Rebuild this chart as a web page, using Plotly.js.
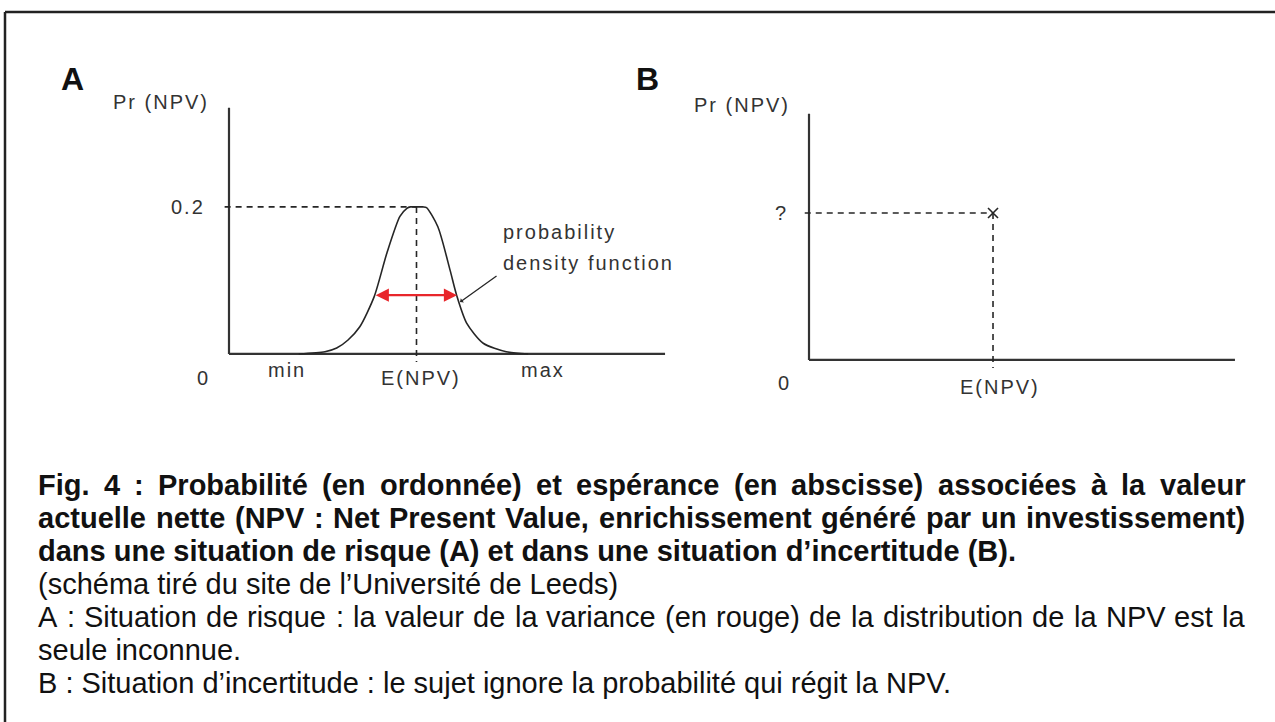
<!DOCTYPE html>
<html>
<head>
<meta charset="utf-8">
<script src="https://cdn.plot.ly/plotly-3.0.1.min.js"></script>
<style>
  html, body { margin: 0; padding: 0; background: #fff; }
  #chart { width: 1275px; height: 722px; }
</style>
</head>
<body>
<div id="chart"></div>
<script>
// ---------- DATA ----------
// Panel A : probability density function of the NPV (schematic)
const curveX = [16, 22, 24.7, 27.3, 30.0, 33.3, 36.2, 39.2, 40.8, 41.6, 43, 44.5, 45.3, 47.9, 50.7, 52.2, 54.5, 58.3, 63.6, 68.6];
const curveY = [0, 0.003, 0.008, 0.019, 0.037, 0.078, 0.137, 0.187, 0.198, 0.2, 0.2, 0.2, 0.199, 0.173, 0.114, 0.080, 0.042, 0.0146, 0.003, 0];
const expectedA = 43;          // E(NPV) in panel A
const peakPr = 0.2;            // Pr at E(NPV)
const minX = 14;               // "min"
const maxX = 72;               // "max"
const varianceArrowX = [33.3, 52.3]; // red arrow (variance)
const varianceArrowY = 0.080;
const axisTop = 0.335;
const axisEnd = 100;
const tickLabelsA = ['min', 'E(NPV)', 'max'];
const yLabelsA = ['0', '0.2'];

// Panel B : uncertainty
const expectedB = 43.2;
const unknownPr = 0.2;         // drawn level, labelled "?"
const tickLabelsB = ['E(NPV)'];
const yLabelsB = ['0', '?'];

// Caption
const captionBold = [
  ['Fig. 4 : Probabilité (en ordonnée) et espérance (en abscisse) associées à la valeur', true],
  ['actuelle nette (NPV : Net Present Value, enrichissement généré par un investissement)', true],
  ['dans une situation de risque (A) et dans une situation d’incertitude (B).', false]
];
const captionRegular = [
  ['(schéma tiré du site de l’Université de Leeds)', false],
  ['A : Situation de risque : la valeur de la variance (en rouge) de la distribution de la NPV est la', true],
  ['seule inconnue.', false],
  ['B : Situation d’incertitude : le sujet ignore la probabilité qui régit la NPV.', false]
];

// ---------- DRAWING ----------
const W = 1275, H = 722;
const FONT = '"Liberation Sans", Arial, sans-serif';
const INK = '#262626';
const AXIS = '#333333';
const RED = '#e8262b';
const DASH = '6px,5px';
const sp = t => '<span style="letter-spacing:2px">' + t + '</span>';

const traces = [
  // Panel A axes
  {x: [0, 0], y: [axisTop, 0], xaxis: 'x', yaxis: 'y', mode: 'lines', line: {color: AXIS, width: 2.2}, hoverinfo: 'skip'},
  {x: [0, axisEnd], y: [0, 0], xaxis: 'x', yaxis: 'y', mode: 'lines', line: {color: AXIS, width: 2.2}, hoverinfo: 'skip'},
  // dashed guides A
  {x: [-1, expectedA], y: [peakPr, peakPr], xaxis: 'x', yaxis: 'y', mode: 'lines', line: {color: INK, width: 1.6, dash: DASH}, hoverinfo: 'skip'},
  {x: [expectedA, expectedA], y: [peakPr, -0.011], xaxis: 'x', yaxis: 'y', mode: 'lines', line: {color: INK, width: 1.6, dash: DASH}, hoverinfo: 'skip'},
  // density curve
  {x: curveX, y: curveY, xaxis: 'x', yaxis: 'y', mode: 'lines', line: {color: INK, width: 1.6, shape: 'spline', smoothing: 0.7}, hoverinfo: 'skip'},
  // Panel B axes
  {x: [0, 0], y: [axisTop, 0], xaxis: 'x2', yaxis: 'y2', mode: 'lines', line: {color: AXIS, width: 2.2}, hoverinfo: 'skip'},
  {x: [0, axisEnd], y: [0, 0], xaxis: 'x2', yaxis: 'y2', mode: 'lines', line: {color: AXIS, width: 2.2}, hoverinfo: 'skip'},
  // dashed guides B
  {x: [-1, expectedB], y: [unknownPr, unknownPr], xaxis: 'x2', yaxis: 'y2', mode: 'lines', line: {color: INK, width: 1.6, dash: DASH}, hoverinfo: 'skip'},
  {x: [expectedB, expectedB], y: [unknownPr, -0.011], xaxis: 'x2', yaxis: 'y2', mode: 'lines', line: {color: INK, width: 1.6, dash: DASH}, hoverinfo: 'skip'},
  {x: [expectedB], y: [unknownPr], xaxis: 'x2', yaxis: 'y2', mode: 'markers', marker: {symbol: 'x-thin', size: 10, line: {color: INK, width: 1.6}}, hoverinfo: 'skip'}
];

const chartFont = {family: FONT, size: 20, color: '#333'};
const ann = [];
function lab(o) { ann.push(Object.assign({showarrow: false, font: chartFont, borderpad: 0, borderwidth: 0}, o)); }

// Panel letters
lab({xref: 'paper', yref: 'paper', x: 72 / W, y: 1 - 79 / H, xanchor: 'center', yanchor: 'middle', text: 'A', font: {family: FONT, size: 32, color: '#111', weight: 700}});
lab({xref: 'paper', yref: 'paper', x: 647 / W, y: 1 - 79 / H, xanchor: 'center', yanchor: 'middle', text: 'B', font: {family: FONT, size: 32, color: '#111', weight: 700}});

// Panel A labels
lab({xref: 'x', yref: 'y', x: 0, y: axisTop, xanchor: 'right', yanchor: 'middle', xshift: -20, yshift: 6, text: sp('Pr (NPV)')});
lab({xref: 'x', yref: 'y', x: 0, y: peakPr, xanchor: 'right', yanchor: 'middle', xshift: -24, text: sp(yLabelsA[1])});
lab({xref: 'x', yref: 'y', x: 0, y: 0, xanchor: 'center', yanchor: 'middle', xshift: -26, yshift: -24, text: yLabelsA[0]});
lab({xref: 'x', yref: 'y', x: minX, y: 0, xanchor: 'center', yanchor: 'middle', xshift: -3, yshift: -16, text: sp(tickLabelsA[0])});
lab({xref: 'x', yref: 'y', x: expectedA, y: 0, xanchor: 'center', yanchor: 'middle', xshift: 5, yshift: -24, text: sp(tickLabelsA[1])});
lab({xref: 'x', yref: 'y', x: maxX, y: 0, xanchor: 'center', yanchor: 'middle', yshift: -16, text: sp(tickLabelsA[2])});
lab({xref: 'x', yref: 'y', x: 62.8, y: 0.166, xanchor: 'left', yanchor: 'middle', text: sp('probability')});
lab({xref: 'x', yref: 'y', x: 62.8, y: 0.124, xanchor: 'left', yanchor: 'middle', text: sp('density function')});

// variance arrow (red, double-headed)
ann.push({xref: 'x', yref: 'y', axref: 'x', ayref: 'y', x: varianceArrowX[1], y: varianceArrowY, ax: varianceArrowX[0], ay: varianceArrowY,
  text: '', showarrow: true, arrowside: 'end+start', arrowhead: 2, arrowsize: 1.1, arrowwidth: 2.4, arrowcolor: RED});
// pointer to the curve
ann.push({xref: 'x', yref: 'y', axref: 'x', ayref: 'y', x: 53.0, y: 0.0707, ax: 61.7, ay: 0.1075,
  text: '', showarrow: true, arrowhead: 1, arrowsize: 0.7, arrowwidth: 1.3, arrowcolor: INK});

// Panel B labels
lab({xref: 'x2', yref: 'y2', x: 0, y: axisTop, xanchor: 'right', yanchor: 'middle', xshift: -19, yshift: 9, text: sp('Pr (NPV)')});
lab({xref: 'x2', yref: 'y2', x: 0, y: unknownPr, xanchor: 'right', yanchor: 'middle', xshift: -23, text: yLabelsB[1]});
lab({xref: 'x2', yref: 'y2', x: 0, y: 0, xanchor: 'center', yanchor: 'middle', xshift: -26, yshift: -23, text: yLabelsB[0]});
lab({xref: 'x2', yref: 'y2', x: expectedB, y: 0, xanchor: 'center', yanchor: 'middle', xshift: 7, yshift: -27, text: sp(tickLabelsB[0])});

// Caption (justified lines laid out word by word)
const ctx = document.createElement('canvas').getContext('2d');
const LEFT = 38, RIGHT = 1245;
function addLine(text, justify, yc, size, bold) {
  const f = {family: FONT, size: size, color: '#111', weight: bold ? 700 : 400};
  if (!justify) {
    ann.push({xref: 'paper', yref: 'paper', x: LEFT / W, y: 1 - yc / H, xanchor: 'left', yanchor: 'middle',
      text: text, showarrow: false, font: f, borderpad: 0, borderwidth: 0});
    return;
  }
  ctx.font = (bold ? 'bold ' : '') + size + 'px "Liberation Sans"';
  const words = text.split(' ');
  const widths = words.map(w => ctx.measureText(w).width);
  const total = widths.reduce((a, b) => a + b, 0);
  const gap = Math.max(size * 0.2, (RIGHT - LEFT - total) / (words.length - 1));
  let x = LEFT;
  words.forEach((w, i) => {
    ann.push({xref: 'paper', yref: 'paper', x: x / W, y: 1 - yc / H, xanchor: 'left', yanchor: 'middle',
      text: w, showarrow: false, font: f, borderpad: 0, borderwidth: 0});
    x += widths[i] + gap;
  });
}
const LINE0 = 485, STEP = 33;
captionBold.forEach((l, i) => addLine(l[0], l[1], LINE0 + i * STEP, 29, true));
captionRegular.forEach((l, i) => addLine(l[0], l[1], LINE0 + (i + 3) * STEP, 29, false));

const layout = {
  width: W, height: H,
  margin: {l: 0, r: 0, t: 0, b: 0},
  paper_bgcolor: '#ffffff', plot_bgcolor: 'rgba(0,0,0,0)',
  showlegend: false,
  xaxis: {domain: [0.1454, 0.5387], range: [-10, 105], visible: false, fixedrange: true},
  yaxis: {domain: [0.4792, 0.8560], range: [-0.03, 0.34], visible: false, fixedrange: true},
  xaxis2: {domain: [0.6011, 0.9853], range: [-10, 105], anchor: 'y2', visible: false, fixedrange: true},
  yaxis2: {domain: [0.4709, 0.8476], range: [-0.03, 0.34], anchor: 'x2', visible: false, fixedrange: true},
  shapes: [
    {type: 'line', xref: 'paper', yref: 'paper', x0: 5 / W, x1: 1.02, y0: 1 - 12 / H, y1: 1 - 12 / H, line: {color: '#222', width: 2.5}},
    {type: 'line', xref: 'paper', yref: 'paper', x0: 5 / W, x1: 5 / W, y0: 1 - 12 / H, y1: -0.02, line: {color: '#222', width: 2.5}}
  ],
  annotations: ann
};

Plotly.newPlot('chart', traces, layout, {displayModeBar: false, staticPlot: true});
</script>
</body>
</html>
